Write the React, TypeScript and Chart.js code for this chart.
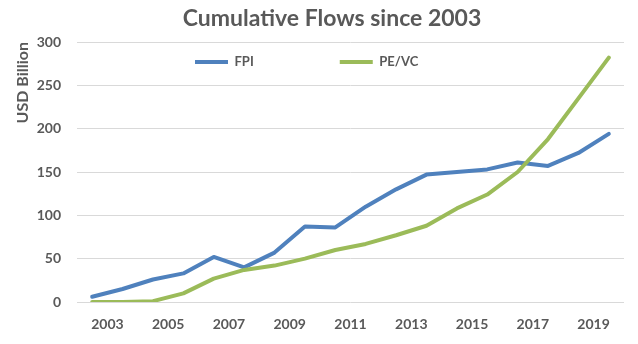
import { useEffect, useRef } from 'react';
import { Chart, registerables } from 'chart.js';

Chart.register(...registerables);

// Tick labels shown under the x axis (one label every two points)
const xTickLabels = ['2003', '2005', '2007', '2009', '2011', '2013', '2015', '2017', '2019'];
// Series values (USD Billion), one per point along the x axis
const fpiValues = [6, 15, 26, 33, 52, 40, 57, 87, 86, 110, 130, 147, 150, 153, 161, 157, 172, 194];
const peVcValues = [0, 0, 1, 10, 27, 37, 42, 50, 60, 67, 77, 88, 108, 124, 150, 188, 235, 282];
const seriesNames = ['FPI', 'PE/VC'];

const GREY = '#595959';
const FONT = 'Lato';
const LEGEND_PAD = 86;

export default function App() {
  const ref = useRef<HTMLCanvasElement | null>(null);

  useEffect(() => {
    document.body.style.margin = '0';
    const canvas = ref.current;
    if (!canvas) return;
    Chart.defaults.font.family = FONT;

    const toPoints = (vals: number[]) => vals.map((y, i) => ({ x: i, y }));

    // Places the (horizontal) legend inside the plot area and nudges the title, as in the reference
    const legendInPlot = {
      id: 'legendInPlot',
      beforeDraw(chart: any) {
        const lg = chart.legend;
        const ca = chart.chartArea;
        if (!lg || !ca) return;
        lg.left = ca.left + 32;
        lg.right = ca.right + 2000;
        lg.width = lg.right - lg.left;
        lg.top = ca.top - 72.5;
        lg.bottom = ca.bottom;
        lg.height = lg.bottom - lg.top;
        const t = chart.titleBlock;
        if (t) {
          t.left = 40;
          t.width = t.right - t.left;
        }
      },
    };

    const chart = new Chart(canvas, {
      type: 'line',
      data: {
        datasets: [
          {
            label: seriesNames[0],
            data: toPoints(fpiValues),
            borderColor: '#4F81BD',
            backgroundColor: '#4F81BD',
            borderWidth: 4,
            pointRadius: 0,
            tension: 0,
            fill: false,
            borderCapStyle: 'round',
            borderJoinStyle: 'round',
            order: 2,
          },
          {
            label: seriesNames[1],
            data: toPoints(peVcValues),
            borderColor: '#9BBB59',
            backgroundColor: '#9BBB59',
            borderWidth: 4,
            pointRadius: 0,
            tension: 0,
            fill: false,
            borderCapStyle: 'round',
            borderJoinStyle: 'round',
            order: 1,
          },
        ],
      },
      options: {
        responsive: false,
        maintainAspectRatio: false,
        animation: false,
        devicePixelRatio: 1,
        layout: { padding: { left: 0, right: 14, top: 0, bottom: 0 } },
        plugins: {
          title: {
            display: true,
            text: 'Cumulative Flows since 2003',
            color: GREY,
            font: { family: FONT, size: 23, weight: 'bold' },
            padding: { top: 5, bottom: 9.4 },
          },
          legend: {
            display: true,
            position: 'top',
            align: 'start',
            maxHeight: 0.001,
            labels: {
              usePointStyle: true,
              pointStyle: 'line',
              pointStyleWidth: 33,
              padding: LEGEND_PAD,
              color: GREY,
              font: { family: FONT, size: 13, weight: 'bold' },
              sort: (a: any, b: any) => a.datasetIndex - b.datasetIndex,
            },
          },
          tooltip: { enabled: false },
        },
        scales: {
          x: {
            type: 'linear',
            min: -0.5,
            max: fpiValues.length - 0.5,
            grid: { display: false, drawTicks: false },
            border: { display: false },
            afterBuildTicks: (scale: any) => {
              scale.ticks = xTickLabels.map((_, i) => ({ value: i * 2 + 0.5 }));
            },
            afterFit: (scale: any) => {
              scale.height = 42;
            },
            ticks: {
              autoSkip: false,
              maxRotation: 0,
              minRotation: 0,
              padding: 14,
              color: GREY,
              font: { family: FONT, size: 14, weight: 'bold' },
              callback: (_v: any, i: number) => xTickLabels[i],
            },
          },
          y: {
            min: 0,
            max: 300,
            grid: { color: '#D9D9D9', lineWidth: 1, drawTicks: false },
            border: { display: false },
            afterFit: (scale: any) => {
              scale.width = 77;
            },
            ticks: {
              stepSize: 50,
              padding: 16,
              color: GREY,
              font: { family: FONT, size: 14, weight: 'bold' },
            },
            title: {
              display: true,
              text: 'USD Billion',
              align: 'end',
              color: GREY,
              font: { family: FONT, size: 16, weight: 'bold' },
              padding: { top: 13, bottom: 0 },
            },
          },
        },
      },
      plugins: [legendInPlot],
    } as any);

    return () => chart.destroy();
  }, []);

  return (
    <div style={{ width: 638, height: 344 }}>
      <canvas ref={ref} width={638} height={344} />
    </div>
  );
}
